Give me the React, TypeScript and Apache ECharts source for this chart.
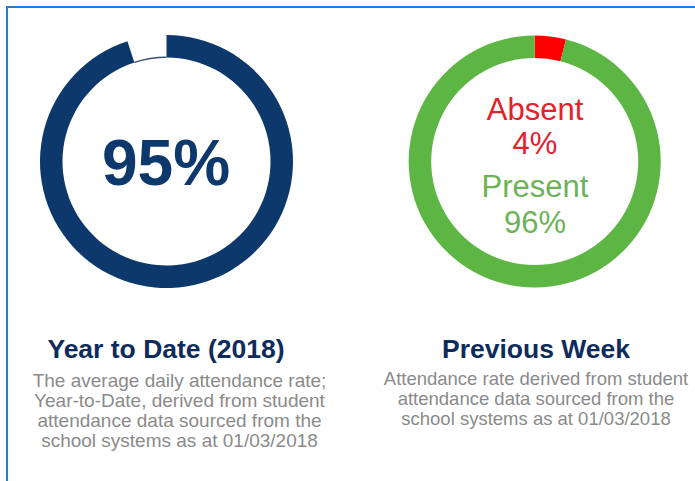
import React, { useEffect, useRef } from "react";
import * as echarts from "echarts";

// ---- data ----
const ytdCategories = ["Attendance", "Not attended"];
const ytdValues = [95, 5];
const weekCategories = ["Absent", "Present"];
const weekValues = [4, 96];
const panelTitles = ["Year to Date (2018)", "Previous Week"];
const ytdNotes = [
  "The average daily attendance rate;",
  "Year-to-Date, derived from student",
  "attendance data sourced from the",
  "school systems as at 01/03/2018",
];
const weekNotes = [
  "Attendance rate derived from student",
  "attendance data sourced from the",
  "school systems as at 01/03/2018",
];

const NAVY = "#0c386b";
const TITLE_NAVY = "#0d2c5c";
const GREEN = "#5db543";
const RED = "#ff0000";
const GREY = "#8a8a8a";
const FONT = "Liberation Sans";

export default function App() {
  const ref = useRef<HTMLDivElement>(null);

  useEffect(() => {
    if (!ref.current) return;
    const chart = echarts.init(ref.current, null, { renderer: "svg" });

    const pieBase = {
      type: "pie",
      silent: true,
      startAngle: 90,
      clockwise: true,
      avoidLabelOverlap: false,
      label: { show: false },
      labelLine: { show: false },
      emphasis: { disabled: true },
    };

    const textEl = (
      text: string,
      x: number,
      y: number,
      fontSize: number,
      color: string,
      fontWeight: string = "normal"
    ) => ({
      type: "text",
      x,
      y,
      silent: true,
      style: {
        text,
        fill: color,
        fontSize,
        fontWeight,
        fontFamily: FONT,
        align: "center",
        verticalAlign: "middle",
      },
    });

    const graphics: any[] = [
      // frame lines
      { type: "line", silent: true, shape: { x1: 6, y1: 7, x2: 695, y2: 7 }, style: { stroke: "#1f7fd6", lineWidth: 2 } },
      { type: "line", silent: true, shape: { x1: 7, y1: 6, x2: 7, y2: 481 }, style: { stroke: "#1f7fd6", lineWidth: 2 } },
      // centre texts
      textEl(`${ytdValues[0]}%`, 166, 162.8, 64, NAVY, "bold"),
      textEl(weekCategories[0], 535, 109.3, 31, "#e4212b"),
      textEl(`${weekValues[0]}%`, 535, 143.3, 31, "#e4212b"),
      textEl(weekCategories[1], 535, 186.3, 31, "#6cb257"),
      textEl(`${weekValues[1]}%`, 535, 222.3, 31, "#6cb257"),
      // titles
      textEl(panelTitles[0], 166, 348.6, 26.5, TITLE_NAVY, "bold"),
      textEl(panelTitles[1], 536, 348.6, 26.5, TITLE_NAVY, "bold"),
    ];
    ytdNotes.forEach((t, i) => graphics.push(textEl(t, 179.5, 380.4 + 20 * i, 19, GREY)));
    weekNotes.forEach((t, i) => graphics.push(textEl(t, 536, 378.6 + 20 * i, 18.5, GREY)));

    chart.setOption({
      animation: false,
      backgroundColor: "#ffffff",
      series: [
        {
          ...pieBase,
          name: "ytd",
          center: [166.5, 161.5],
          radius: [104, 126.5],
          data: ytdCategories.map((name, i) => ({
            name,
            value: ytdValues[i],
            itemStyle: { color: i === 0 ? NAVY : "rgba(0,0,0,0)", borderWidth: 0 },
          })),
        },
        {
          ...pieBase,
          name: "ytd-gap-line",
          center: [166.5, 161.5],
          radius: [103.5, 105],
          data: ytdCategories.map((name, i) => ({
            name,
            value: ytdValues[i],
            itemStyle: { color: i === 1 ? "#3d4f6a" : "rgba(0,0,0,0)", borderWidth: 0 },
          })),
        },
        {
          ...pieBase,
          name: "week",
          center: [534.7, 161.5],
          radius: [103.5, 126],
          data: weekCategories.map((name, i) => ({
            name,
            value: weekValues[i],
            itemStyle: { color: i === 0 ? RED : GREEN, borderWidth: 0 },
          })),
        },
      ],
      graphic: graphics,
    });

    return () => chart.dispose();
  }, []);

  return (
    <div
      ref={ref}
      style={{ position: "absolute", left: 0, top: 0, width: 695, height: 481, background: "#fff" }}
    />
  );
}
